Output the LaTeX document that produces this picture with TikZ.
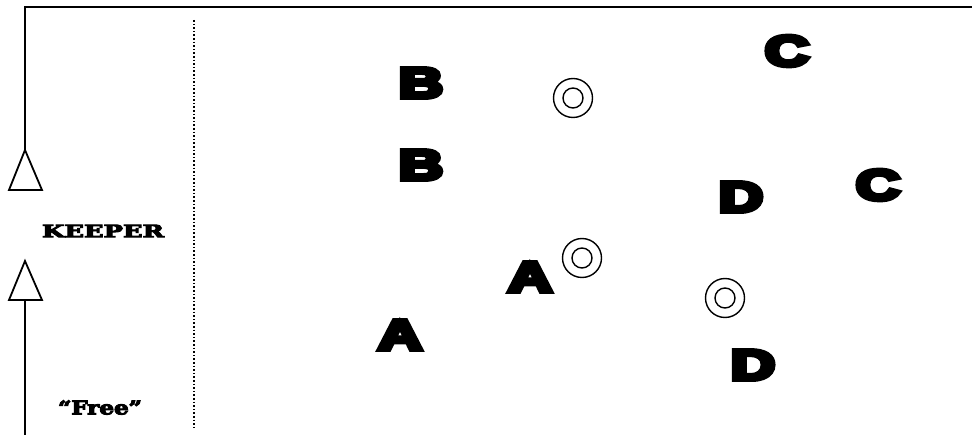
\documentclass[tikz,border=0pt]{standalone}
\usepackage{fontspec}
\usepackage{graphicx}
\newfontfamily\heavy[FakeBold=10]{Liberation Sans Bold}
\newfontfamily\slab[FakeBold=5]{DejaVu Serif Bold}
\newcommand\plyr[1]{\scalebox{1.42}[1]{\heavy\fontsize{43}{43}\selectfont #1}}
\newcommand\slabtext[3]{\resizebox{#1}{#2}{\slab\fontsize{16}{16}\selectfont #3}}
\begin{document}
\begin{tikzpicture}[x=1pt,y=-1pt,
  player/.style={inner sep=0pt},
  lab/.style={inner sep=0pt},
  wall/.style={line width=2pt},
  cone/.style={line width=1.8pt,fill=white,line join=miter},
  target/.style={line width=1.4pt}]
\useasboundingbox (0,0) rectangle (972,435);
% touch line and goal line
\coordinate (bot) at (25,437);
\coordinate (corner) at (25,7);
\coordinate (right) at (974,7);
\coordinate (t1a) at (25,150);
\coordinate (t2b) at (25,300);
\draw[wall] (t1a) -- (corner) -- (right);
\draw[wall] (bot) -- (t2b);
% cones
\draw[cone] (25,150) -- (42,190) -- (9,190) -- cycle;
\draw[cone] (25,261) -- (42,300) -- (9,300) -- cycle;
% dotted line
\coordinate (d1) at (194,20);
\coordinate (d2) at (194,429);
\draw[line width=1.6pt,dash pattern=on 1.6pt off 2pt] (d1) -- (d2);
% labels
\node[lab] (keeper) at (103,231) {\slabtext{122pt}{12.5pt}{KEEPER}};
\node[lab] (free) at (100,407.5) {\slabtext{84pt}{14pt}{“Free”}};
% players
\node[player] (b1) at (421,83) {\plyr{B}};
\node[player] (b2) at (421,165) {\plyr{B}};
\node[player] (a1) at (530,277) {\plyr{A}};
\node[player] (a2) at (400,335) {\plyr{A}};
\node[player] (c1) at (787,51) {\plyr{C}};
\node[player] (c2) at (878,185) {\plyr{C}};
\node[player] (d1n) at (741,197) {\plyr{D}};
\node[player] (d2n) at (753,365) {\plyr{D}};
% targets
\foreach \n/\p in {g1/{(573,98)},g2/{(582,258)},g3/{(725,298)}}{
  \node[circle,draw,target,minimum size=39pt,inner sep=0pt] (\n) at \p {};
  \node[circle,draw,target,minimum size=20pt,inner sep=0pt] at (\n.center) {};
}
\end{tikzpicture}
\end{document}
